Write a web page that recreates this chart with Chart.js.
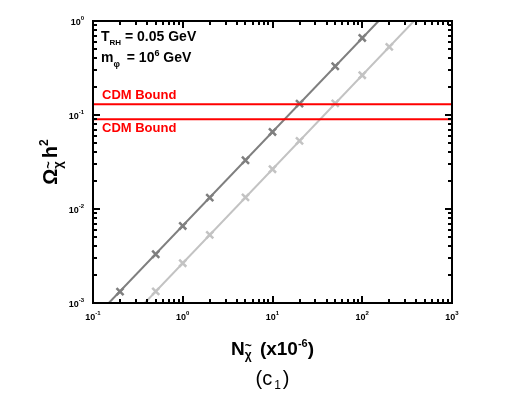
<!DOCTYPE html>
<html>
<head>
<meta charset="utf-8">
<script src="https://cdn.jsdelivr.net/npm/chart.js@4"></script>
<style>
  html, body { margin: 0; padding: 0; background: #fff; }
  canvas { display: block; }
</style>
</head>
<body>
<canvas id="relicChart" width="526" height="393"></canvas>
<script>
// marker points
const darkX = [0.2, 0.5, 1, 2, 5, 10, 20, 50, 100];
const darkY = [0.00132, 0.0033, 0.0066, 0.0132, 0.033, 0.066, 0.132, 0.33, 0.66];
const lightX = [0.5, 1, 2, 5, 10, 20, 50, 100, 200];
const lightY = [0.00133, 0.00265, 0.0053, 0.0133, 0.0265, 0.053, 0.133, 0.265, 0.53];

// where the fitted lines enter / leave the frame
const darkLineX = [0.15, 152];
const darkLineY = [0.001, 1];
const lightLineX = [0.377, 377];
const lightLineY = [0.001, 1];

// CDM bounds (horizontal lines)
const cdmBounds = [0.13, 0.09];
const cdmLabel = 'CDM Bound';

const xRange = [0.1, 1000];
const yRange = [0.001, 1];
const xTickExps = [-1, 0, 1, 2, 3];
const yTickExps = [-3, -2, -1, 0];

const DARK = '#7f7f7f';
const LIGHT = '#c3c3c3';
const RED = '#ff0000';
const FONT = '"Liberation Sans", Arial, sans-serif';

function pts(xs, ys) {
    return xs.map((x, i) => ({ x: x, y: ys[i] }));
}

// 1..9 x 10^e for every decade, last decade only its start
function logTicks(exps) {
    const out = [];
    exps.forEach((e, i) => {
        const m = i === exps.length - 1 ? 1 : 9;
        for (let k = 1; k <= m; k++) out.push({ v: k * Math.pow(10, e), major: k === 1 });
    });
    return out;
}

// draw text pieces one after another: [text, size, dy, bold, extra gap]
function drawPieces(ctx, pieces, x, y, align) {
    let total = 0;
    pieces.forEach(p => {
        ctx.font = (p[3] === false ? '' : 'bold ') + p[1] + 'px ' + FONT;
        p.w = ctx.measureText(p[0]).width + (p[4] || 0);
        total += p.w;
    });
    let cx = x;
    if (align === 'center') cx = x - total / 2;
    if (align === 'right') cx = x - total;
    pieces.forEach(p => {
        ctx.font = (p[3] === false ? '' : 'bold ') + p[1] + 'px ' + FONT;
        ctx.fillText(p[0], cx, y + p[2]);
        cx += p.w;
    });
    return total;
}

const framePlugin = {
    id: 'frame',
    afterDatasetsDraw(chart) {
        const ctx = chart.ctx;
        const a = chart.chartArea;
        const xs = chart.scales.x;
        const ys = chart.scales.y;
        ctx.save();
        ctx.strokeStyle = '#000';
        ctx.fillStyle = '#000';
        ctx.lineWidth = 2;
        ctx.strokeRect(a.left, a.top, a.right - a.left, a.bottom - a.top);

        // inside ticks on all four sides
        ctx.beginPath();
        logTicks(xTickExps).forEach(t => {
            const px = Math.round(xs.getPixelForValue(t.v));
            const len = t.major ? 7 : 4;
            ctx.moveTo(px, a.bottom); ctx.lineTo(px, a.bottom - len);
            ctx.moveTo(px, a.top); ctx.lineTo(px, a.top + len);
        });
        logTicks(yTickExps).forEach(t => {
            const py = Math.round(ys.getPixelForValue(t.v));
            const len = t.major ? 7 : 4;
            ctx.moveTo(a.left, py); ctx.lineTo(a.left + len, py);
            ctx.moveTo(a.right, py); ctx.lineTo(a.right - len, py);
        });
        ctx.stroke();

        // tick labels 10^n
        ctx.textBaseline = 'alphabetic';
        xTickExps.forEach(e => {
            const px = xs.getPixelForValue(Math.pow(10, e));
            drawPieces(ctx, [['10', 9, 0], [String(e), 6, -5]], px, a.bottom + 17, 'center');
        });
        yTickExps.forEach(e => {
            const py = ys.getPixelForValue(Math.pow(10, e));
            drawPieces(ctx, [['10', 9, 0], [String(e), 6, -5]], a.left - 9, py + 4, 'right');
        });

        // annotations
        drawPieces(ctx, [['T', 14, 0], ['RH', 8, 4], [' = 0.05 GeV', 14, 0]], 101, 41, 'left');
        drawPieces(ctx, [['m', 14, 0], ['\u03c6', 9, 5, true, 3], [' = 10', 14, 0], ['6', 9, -6], [' GeV', 14, 0]], 101, 62, 'left');

        ctx.fillStyle = RED;
        ctx.font = 'bold 13px ' + FONT;
        ctx.fillText(cdmLabel, 102, ys.getPixelForValue(cdmBounds[0]) - 5);
        ctx.fillText(cdmLabel, 102, ys.getPixelForValue(cdmBounds[1]) + 13);

        // x axis title
        ctx.fillStyle = '#000';
        const xc = (a.left + a.right) / 2;
        const w = drawPieces(ctx, [['N', 19, 0], ['\u03c7', 12, 4, true, 3], [' (x10', 19, 0], ['-6', 11, -8], [')', 19, 0]], xc, 355, 'center');
        ctx.font = 'bold 19px ' + FONT;
        const nW = ctx.measureText('N').width;
        ctx.font = 'bold 12px ' + FONT;
        const chiW = ctx.measureText('\u03c7').width;
        ctx.fillText('~', xc - w / 2 + nW + chiW / 2 - ctx.measureText('~').width / 2, 350);

        drawPieces(ctx, [['(', 20, 0, false], ['c', 20, 0, false, 2], ['1', 12, 4, false, 2], [')', 20, 0, false]], xc, 385, 'center');

        // y axis title, rotated
        ctx.save();
        ctx.translate(57, (a.top + a.bottom) / 2);
        ctx.rotate(-Math.PI / 2);
        const wy = drawPieces(ctx, [['\u03a9', 20, 0], ['\u03c7', 13, 5, true, 3], ['h', 20, 0], ['2', 12, -9]], 0, 0, 'center');
        ctx.font = 'bold 20px ' + FONT;
        const oW = ctx.measureText('\u03a9').width;
        ctx.font = 'bold 13px ' + FONT;
        const cW = ctx.measureText('\u03c7').width;
        ctx.fillText('~', -wy / 2 + oW + cW / 2 - ctx.measureText('~').width / 2, -4);
        ctx.restore();

        ctx.restore();
    }
};

const ctx = document.getElementById('relicChart').getContext('2d');

const relicChart = new Chart(ctx, {
    type: 'line',
    data: {
        datasets: [
            {
                data: pts([xRange[0], xRange[1]], [cdmBounds[0], cdmBounds[0]]),
                borderColor: RED, borderWidth: 2, pointRadius: 0
            },
            {
                data: pts([xRange[0], xRange[1]], [cdmBounds[1], cdmBounds[1]]),
                borderColor: RED, borderWidth: 2, pointRadius: 0
            },
            {
                data: pts(darkLineX, darkLineY),
                borderColor: DARK, borderWidth: 2, pointRadius: 0
            },
            {
                data: pts(lightLineX, lightLineY),
                borderColor: LIGHT, borderWidth: 2, pointRadius: 0
            },
            {
                data: pts(darkX, darkY),
                showLine: false, pointStyle: 'crossRot', pointRadius: 5,
                pointBorderWidth: 2.5, pointBorderColor: DARK
            },
            {
                data: pts(lightX, lightY),
                showLine: false, pointStyle: 'crossRot', pointRadius: 5,
                pointBorderWidth: 2.5, pointBorderColor: LIGHT
            }
        ]
    },
    options: {
        responsive: false,
        animation: false,
        layout: { padding: { left: 93, top: 21, right: 74, bottom: 90 } },
        plugins: { legend: { display: false }, tooltip: { enabled: false } },
        scales: {
            x: { type: 'logarithmic', min: xRange[0], max: xRange[1], display: false },
            y: { type: 'logarithmic', min: yRange[0], max: yRange[1], display: false }
        }
    },
    plugins: [framePlugin]
});
</script>
</body>
</html>
